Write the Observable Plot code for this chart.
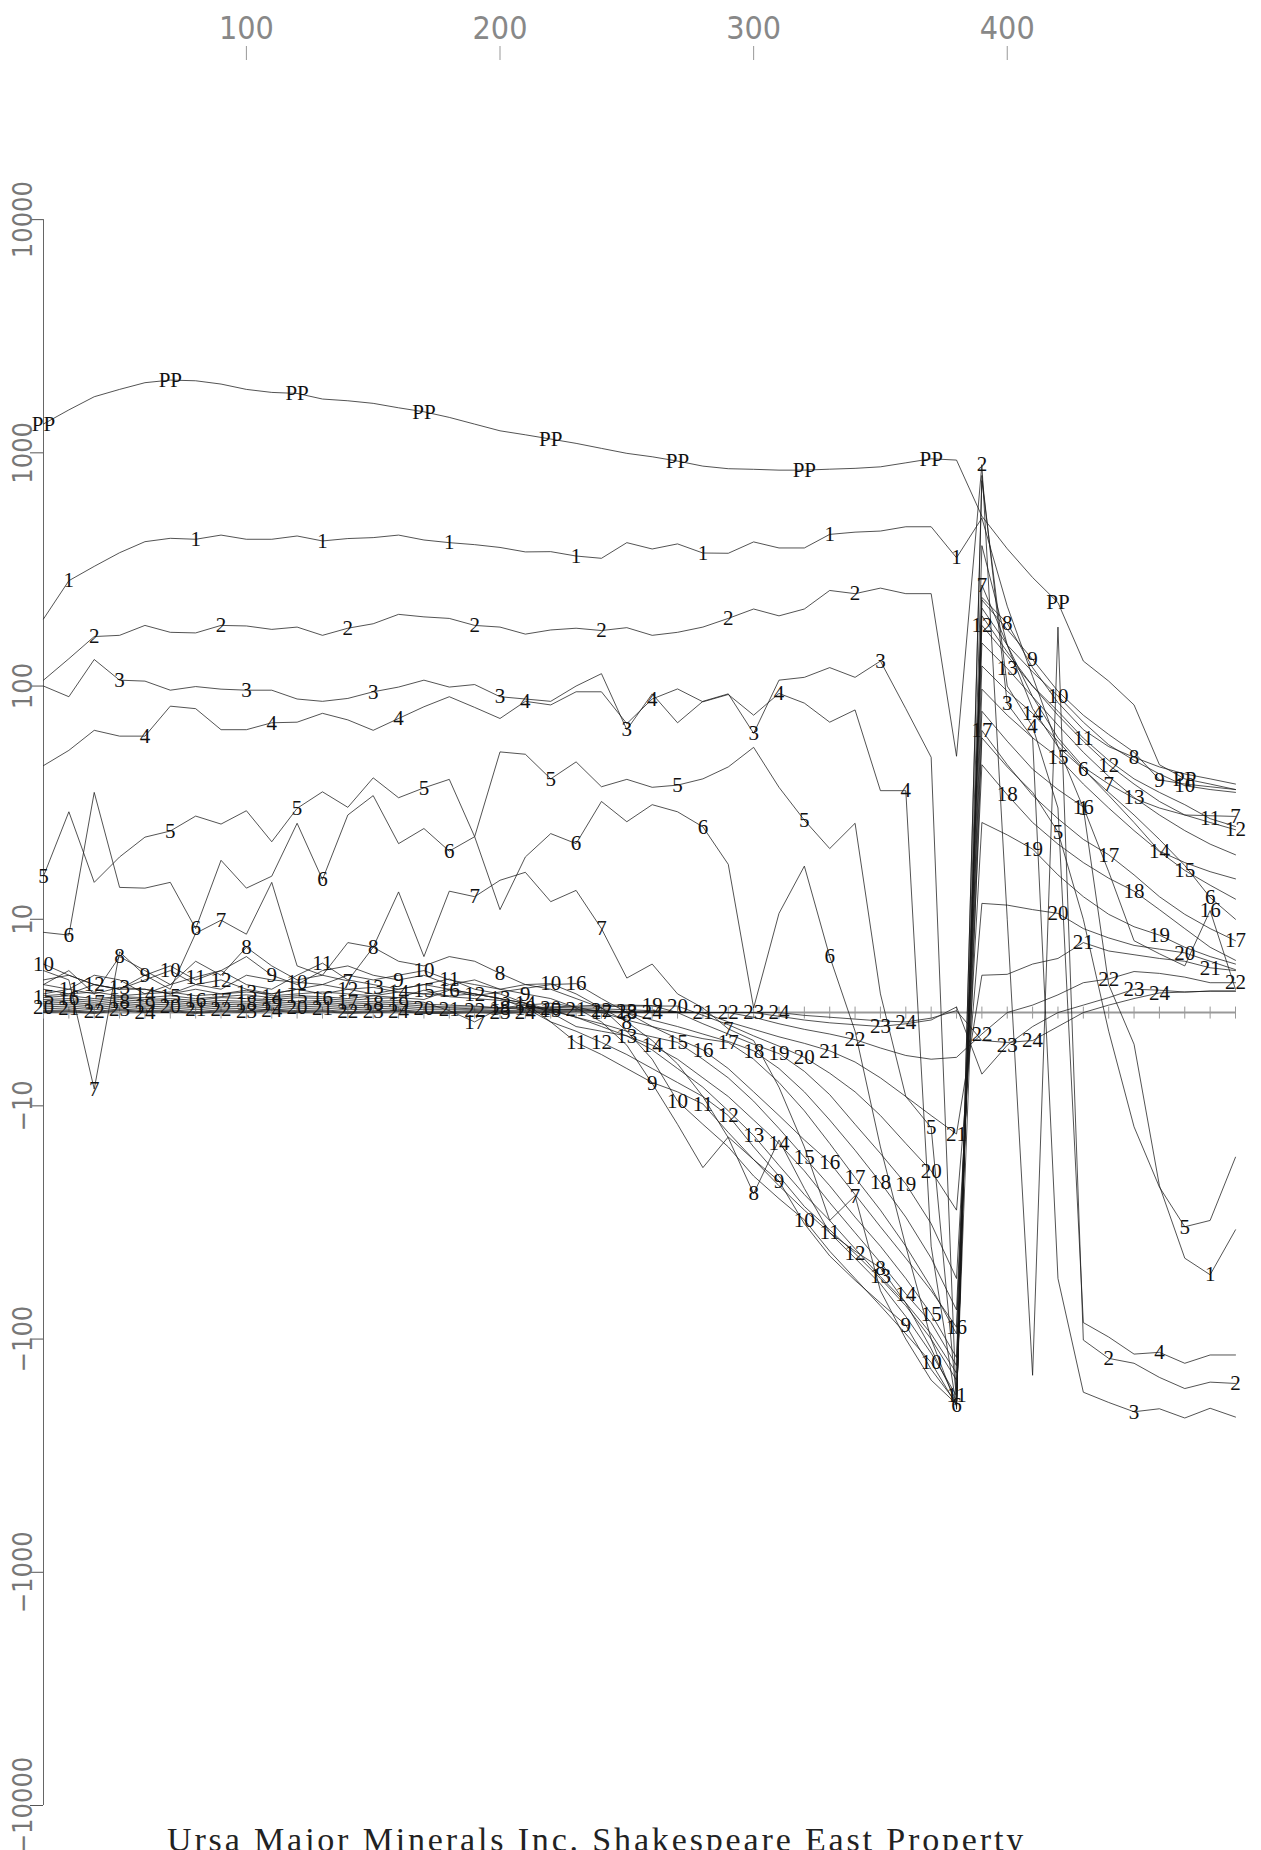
<!DOCTYPE html>
<html><head><meta charset="utf-8">
<script src="https://cdn.jsdelivr.net/npm/d3@7"></script>
<script src="https://cdn.jsdelivr.net/npm/@observablehq/plot@0.6"></script>
<style>
body{margin:0;background:#fff;}
#wrap{position:relative;width:1261px;height:1850px;overflow:hidden;}
#title{position:absolute;left:167px;top:1821px;font-family:"Liberation Serif",serif;font-size:34px;letter-spacing:2.85px;color:#222;white-space:nowrap;}
</style></head><body>
<div id="wrap"><div id="chart"></div>
<div id="title">Ursa Major Minerals Inc. Shakespeare East Property</div></div>
<script>
const stations = [20,30,40,50,60,70,80,90,100,110,120,130,140,150,160,170,180,190,200,210,220,230,240,250,260,270,280,290,300,310,320,330,340,350,360,370,380,390,400,410,420,430,440,450,460,470,480,490];
const xTicks = [100,200,300,400];
const yTicks = [10000,1000,100,10,-10,-100,-1000,-10000];
const channels = ["PP","1","2","3","4","5","6","7","8","9","10","11","12","13","14","15","16","17","18","19","20","21","22","23","24"];

const PP = [1330,1528,1740,1871,1999,2051,2037,1972,1871,1816,1798,1701,1672,1630,1560,1500,1419,1328,1243,1195,1146,1098,1045,995,962,922,877,855,850,843,843,851,858,871,906,943,931,535,388,292,228,128,105,83,46,40,38,36];
const ch1 = [194,283,326,373,416,430,426,444,426,426,440,419,429,433,444,423,412,404,393,376,377,361,353,412,387,407,372,371,415,391,391,447,457,462,482,482,355,525,220,110,55,30,3,-3.4,-22,-45,-53,-34];
const ch2 = [106,131,163,165,182,170,169,182,181,175,179,165,177,185,203,198,195,182,179,167,174,177,173,178,165,170,179,195,214,200,214,257,249,263,249,249,50,890,10,-143,179,-101,-121,-127,-146,-163,-153,-155];
const ch3 = [100,90,130,106,105,96,99.5,97,96,96,88,86,88.5,94.5,99,106,99,101.5,90,88,86,100,113,65,92.6,69.6,86,92.6,62.7,106,109,120,109,128,80,49.5,-200,800,84,60,-55,-169,-187,-205,-199,-218,-198,-216];
const ch4 = [45.6,53,64.6,61,61,82,80,65,65,69.6,70,76.4,71.6,64.6,72.6,81.5,90,81,72.6,86,83,94.5,94.5,69,88,97.2,85.6,92,75,93,84.5,70,79,35.6,35.6,-40,-195,760,100,67,30,-85,-98,-116,-114,-127,-117,-117];
const ch5 = [15.3,28.9,14.4,18.5,22.5,23.9,27.7,25.6,29.2,21.5,29.9,35.2,30.2,40.4,33.2,36.6,39.8,22.6,52.2,51,40,47.3,37,39.8,36.8,37.6,40,45,54.6,36.8,26.6,20.1,25.8,2,-9,-12.4,-180,60,45,35,23.7,10,-2,-12.3,-22.3,-33,-31,-16.6];
const ch6 = [8.6,8.3,35,13.7,13.6,14.4,9.0,17.9,13.6,15.3,25.8,14.8,28,33.9,21.1,24.5,19.6,22.6,11,18.5,23.3,21.1,32,26.2,31,28.9,24.9,17.2,0.5,10.6,16.9,6.0,-2,-15,-40,-100,-193,400,150,80,55,43.9,35,28,22,17,12.4,10];
const ch7 = [4.5,3.5,-8.2,6.5,4,2.5,8.5,9.9,8.4,14.4,5,4,3.4,7,13.1,6,13.2,12.5,14.7,15.9,11.9,13.3,9.0,3.7,5.2,2,0.5,-1.75,-3,-8,-15,-31,-24.3,-62,-100,-150,-190,271,150,90,60,45,38,33,30,28,27.8,27.6];
const ch8 = [3,4.5,2,6.0,4.5,3,5.5,4,7.0,5,3.5,4,7.5,7.0,5.5,5,6,5.5,4.2,3,2.5,1.5,0.5,-1,-3,-5.5,-9,-13.7,-23.8,-14,-22.6,-35,-42,-49.5,-70,-110,-185,240,186,120,85,65,55,49.5,45,42,40,38];
const ch9 = [3.5,4,3,2.5,4,5,3.5,4.5,6,4,3,4.5,5,4,3.5,4,3,3.5,2.5,2,1.5,0.5,-1,-3.5,-7.6,-12,-18.4,-13.6,-17,-21,-32,-44,-56,-70,-87,-135,-188,234,175,130,95,75,62,52,39.6,38,37,36];
const ch10 = [5.2,4,3,2.5,3.5,4.5,3,2.5,4,3.5,3.25,3,4,3.5,4,4.5,3.5,3,2.5,3,3.1,2,0.5,-2,-5,-9.5,-12,-15,-20,-25,-30.8,-42,-55,-72,-95,-126,-192,216,150,115,90.6,70,56,48,42,37.4,36,35];
const ch11 = [3,2.5,4,3.5,2,3,3.8,4.5,3,2.5,4,5.3,3.5,3,2.5,3,3.6,2.5,2,1,-1,-3.2,-4.5,-6,-7.5,-8.5,-9.8,-13,-17,-22,-28,-35,-45,-58,-80,-115,-175,200,140,100,78,59.8,48,40,35,31,27,25];
const ch12 = [2.5,2,3,2.5,2.5,2,3,3.5,2.5,2,2.5,3,2.5,2,2.5,3,2.5,2,1.5,0.5,-1,-2,-3.2,-4.5,-6,-7.5,-9,-11,-15,-20,-27,-34,-43,-55,-72,-100,-150,182,135,100,75,58,45.9,38,32,28,26,24.2];
const ch13 = [2,2.5,2,2.7,2.5,2,2.5,2,2.2,2,2.5,2,2.5,2.7,2.2,2,2.5,2,1.5,1,0,-1.5,-2,-2.5,-4,-6,-8,-10.5,-13.4,-18,-24,-31,-41,-54,-70,-95,-140,153,119,90,68,52,41,33.3,28,24,21,18.9];
const ch14 = [1.8,2,2.2,1.8,2,2.2,1.8,2,2.4,1.8,2,2.2,2,1.8,2.2,2,1.8,2,1.5,1,0.3,-0.5,-1.5,-2.5,-3.5,-5,-7,-9,-11.5,-14.5,-19,-26,-35,-47,-64,-85,-130,122,95,76.4,58,44,34,26,19.6,17.5,16,14.9];
const ch15 = [1.6,1.8,1.5,1.7,1.6,1.8,1.5,1.7,1.9,1.6,1.8,1.7,1.5,1.8,1.6,2.4,1.7,1.5,1.3,0.8,0.2,-0.5,-1.2,-2,-2.6,-3.2,-5,-7,-9.5,-12.5,-16.6,-22,-30,-40,-55,-78,-120,97,75,60,49.5,38,30,24,19.5,16.2,14,12.2];
const ch16 = [1.4,1.5,1.3,1.6,1.4,1.5,1.3,1.6,1.5,1.4,1.6,1.5,1.3,1.5,1.6,1.4,2.4,1.8,2.2,2.6,3.0,3.1,1.5,0,-1.5,-2.8,-4.0,-6,-8.5,-11,-14,-17.5,-24,-33,-45,-62,-89,78,58,44,36,30.3,16,7.7,6.3,5.0,10.9,2.5];
const ch17 = [1.2,1.3,1.1,1.4,1.2,1.3,1.1,1.3,1.2,1.4,1.2,1.3,1.1,1.2,1.3,1.1,0.2,-1.0,0.5,0.8,1,0.6,0,-0.8,-1.5,-2.2,-2.8,-3.2,-5,-7.5,-10.5,-14.5,-20.3,-28,-40,-60,-95,64.5,46,34,27,22,18.9,15.5,12.5,10.5,9,7.7];
const ch18 = [1,1.1,0.9,1.2,1,1.1,0.9,1.1,1,1.2,1,1.1,0.9,1,1.1,0.9,0.8,0.7,0.5,0.5,0.4,0.3,0.2,0,-0.8,-1.5,-2.3,-3.1,-4.1,-6,-8.5,-11.5,-15.5,-21.3,-30,-45,-75,46,34.2,26,21,17.5,15,13.2,11,9,7,5.6];
const ch19 = [0.8,0.9,0.7,1,0.8,0.9,0.7,0.9,0.8,1,0.8,0.9,0.7,0.8,0.9,0.7,0.6,0.6,0.5,0.5,0.6,0.7,0.8,0.8,0.75,0,-1.2,-2.3,-3.4,-4.4,-6.3,-8.8,-12,-16,-21.6,-32,-55,26,23,20,15.5,12.5,10.5,9.2,8.3,7,6,5.2];
const ch20 = [0.6,0.7,0.5,0.8,0.6,0.7,0.5,0.7,0.6,0.8,0.6,0.7,0.5,0.6,0.7,0.5,0.5,0.4,0.4,0.5,0.5,0.6,0.6,0.7,0.7,0.7,-0.3,-1.3,-2.5,-3.6,-4.8,-6.5,-8.5,-11,-14.5,-19,-28,11.7,11.5,11,10.6,9,8,7.2,6.8,6.4,5.5,4.6];
const ch21 = [0.4,0.5,0.3,0.6,0.4,0.5,0.3,0.5,0.4,0.6,0.4,0.5,0.3,0.4,0.5,0.3,0.3,0.3,0.2,0.3,0.3,0.4,0.4,0.3,0.2,0.1,0,-1,-1.8,-2.6,-3.3,-4.1,-5.3,-7,-9,-11,-13.2,4,4.1,5.2,5.8,7.5,6.6,6.2,5.8,5.5,4.8,4.5];
const ch22 = [0.2,0.3,0.1,0.4,0.2,0.3,0.1,0.3,0.2,0.4,0.2,0.3,0.1,0.2,0.3,0.1,0.1,0.2,0.1,0.2,0.2,0.3,0.2,0.1,0.1,0,0,0,-0.5,-1.2,-1.8,-2.3,-2.9,-3.8,-4.6,-5.0,-4.8,-2.3,0,0.8,1.9,3.2,3.6,4.4,4.2,3.8,3.2,3.2];
const ch23 = [0.1,0.2,0,0.3,0.1,0.2,0,0.2,0.1,0.3,0.1,0.2,0,0.1,0.2,0,0,0.1,0,0.1,0.1,0.2,0.1,0.1,0,0,0,0,0,-0.4,-0.8,-1.1,-1.3,-1.5,-1.2,-0.8,0.6,-6.6,-3.5,-1.5,0,0.8,1.6,2.5,2.4,2.2,2.3,2.3];
const ch24 = [0,0.1,-0.1,0.2,0,0.1,-0.1,0.1,0,0.2,0,0.1,-0.1,0,0.1,-0.1,-0.1,0,-0.1,0,0,0.1,0,0,0,0,0,0,0,0,-0.3,-0.5,-0.7,-0.9,-1.0,-0.6,0.2,-3,-3.2,-3.0,-1.5,0,0.8,1.5,2.1,2.2,2.3,2.3];

const series = [PP,ch1,ch2,ch3,ch4,ch5,ch6,ch7,ch8,ch9,ch10,ch11,ch12,ch13,ch14,ch15,ch16,ch17,ch18,ch19,ch20,ch21,ch22,ch23,ch24];

// piecewise axis: linear within ±10, logarithmic beyond
function T(v){ const a = Math.abs(v); return a <= 10 ? v/25 : Math.sign(v)*(Math.log10(a) - 0.6); }

const rows = series.flatMap((vals,k) => vals.map((v,i) => ({ch: channels[k], k, i, x: stations[i], v})));
const labels = rows.filter(d => d.i % 5 === d.k % 5);
const tickLabel = new Map(yTicks.map(v => [T(v), v < 0 ? "\u2212" + Math.abs(v) : String(v)]));

const vtick = {draw(ctx, size){ const r = Math.sqrt(size/Math.PI); ctx.moveTo(0,-r); ctx.lineTo(0,r); }};
const axisFont = "'DejaVu Sans Condensed','DejaVu Sans',sans-serif";

const chart = Plot.plot({
  width: 1261, height: 1850,
  marginLeft: 43, marginRight: 26, marginTop: 59, marginBottom: 45,
  x: {domain: [stations[0], stations[stations.length-1]]},
  y: {domain: [T(-10000), 4.0866]},
  marks: [
    Plot.axisX({anchor: "top", ticks: xTicks, tickSize: 14, tickPadding: 7, fontSize: 32, fontFamily: axisFont, fontWeight: 300, fill: "#888", stroke: "#999", label: null}),
    Plot.axisY({anchor: "left", ticks: yTicks.map(T), tickFormat: t => tickLabel.get(t), tickSize: 13, tickPadding: -1, tickRotate: -90, fontSize: 27, fontFamily: axisFont, fontWeight: 300, fill: "#777", stroke: "#555", label: null}),
    Plot.ruleX([stations[0]], {y1: T(d3.min(yTicks)), y2: T(d3.max(yTicks)), stroke: "#666", strokeWidth: 1}),
    Plot.ruleY([0], {x1: stations[0], x2: stations[stations.length-1], stroke: "#999", strokeWidth: 2}),
    Plot.dot(stations, {x: d => d, y: d => 0, symbol: vtick, r: 6, fill: "none", stroke: "#999", strokeWidth: 1}),
    Plot.line(rows, {x: "x", y: d => T(d.v), z: "ch", stroke: "#1a1a1a", strokeWidth: 0.75}),
    Plot.text(labels, {x: "x", y: d => T(d.v), text: "ch", fontFamily: "'Liberation Serif',serif", fontSize: 21, fill: "#111"})
  ]
});
document.getElementById("chart").appendChild(chart);
</script>
</body></html>
